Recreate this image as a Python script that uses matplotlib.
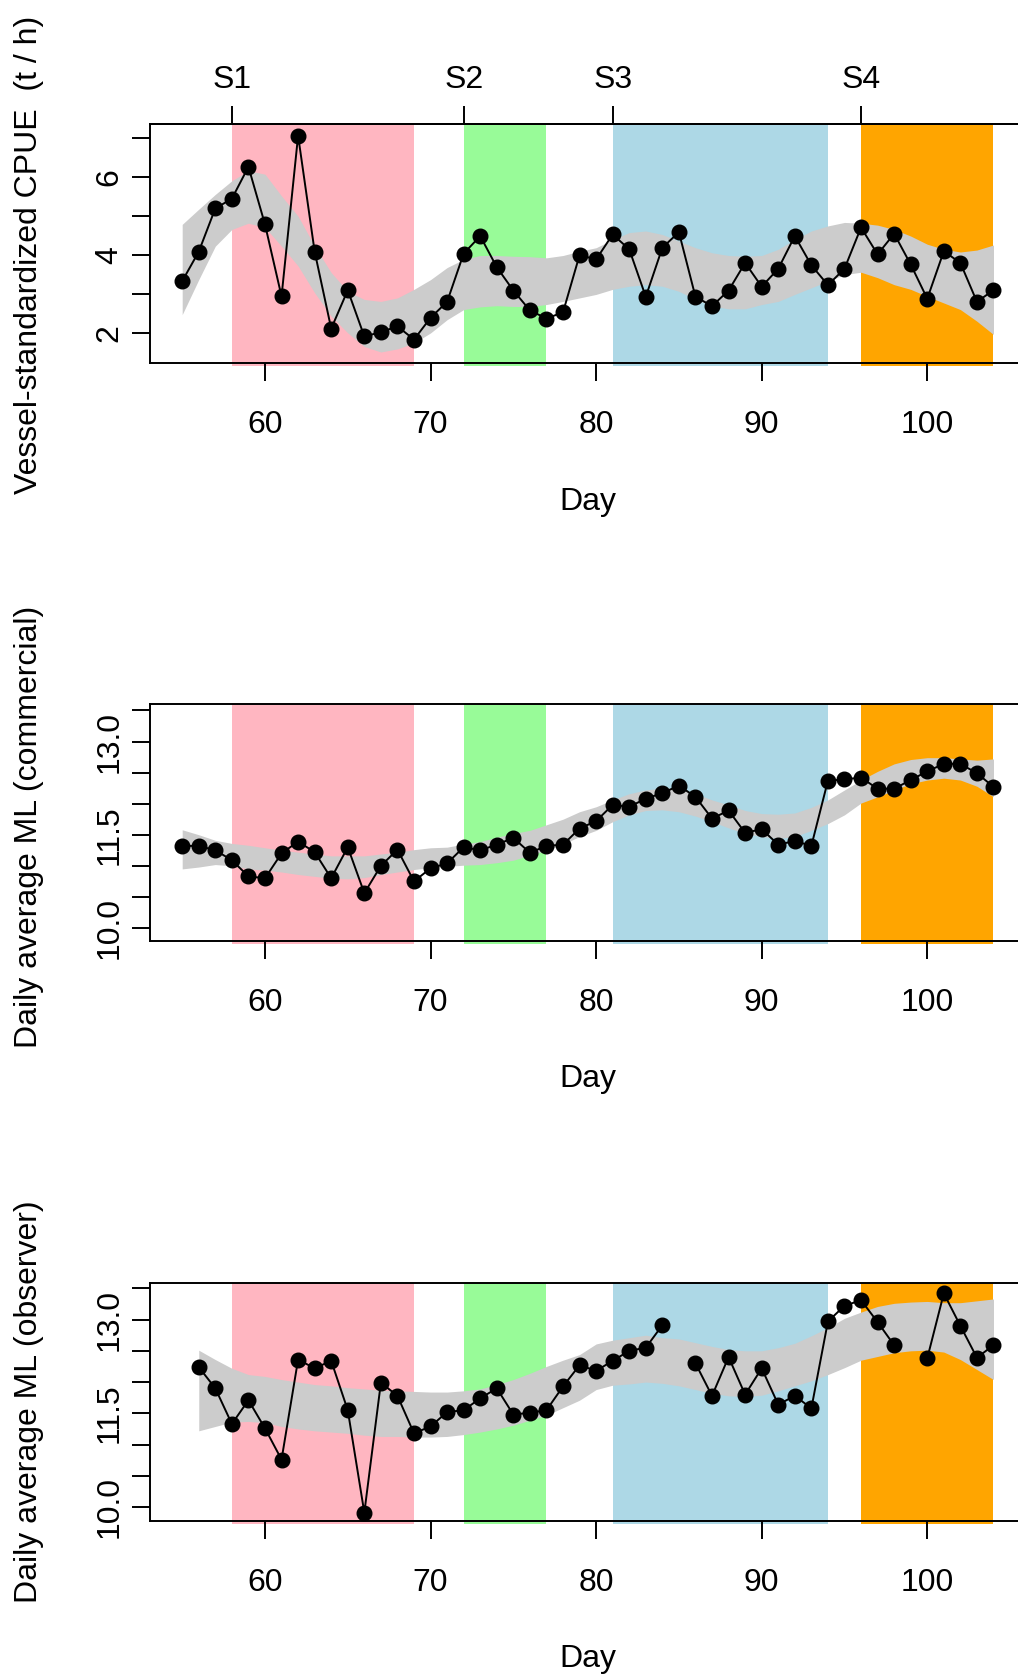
import matplotlib
matplotlib.use('Agg')
import matplotlib.pyplot as plt
import numpy as np

plt.rcParams['font.family'] = ['Liberation Sans', 'DejaVu Sans']

# days for commercial data (panels 1 and 2) and observer data (panel 3)
days = list(range(55, 105))
days_obs = list(range(56, 105))

# panel 1: vessel-standardized CPUE (t/h) with smoother band
cpue = [3.33, 4.09, 5.20, 5.45, 6.27, 4.79, 2.94, 7.07, 4.09, 2.11, 3.10, 1.91, 2.02,
        2.17, 1.83, 2.39, 2.80, 4.04, 4.49, 3.69, 3.09, 2.58, 2.37, 2.53, 4.00,
        3.89, 4.53, 4.15, 2.93, 4.19, 4.59, 2.93, 2.69, 3.09, 3.80, 3.19, 3.65, 4.49,
        3.74, 3.23, 3.65, 4.71, 4.02, 4.55, 3.76, 2.88, 4.10, 3.80, 2.80, 3.10]
cpue_hi = [4.79, 5.18, 5.56, 5.91, 6.17, 6.08, 5.52, 5.00, 4.23, 3.55, 3.07, 2.86, 2.81,
           2.90, 3.12, 3.37, 3.68, 3.89, 3.99, 3.99, 3.97, 3.96, 3.93, 3.99, 4.10,
           4.19, 4.40, 4.58, 4.62, 4.53, 4.36, 4.19, 4.06, 3.99, 3.97, 3.99, 4.15, 4.40,
           4.62, 4.75, 4.84, 4.82, 4.77, 4.66, 4.49, 4.28, 4.15, 4.08, 4.13, 4.26]
cpue_lo = [2.47, 3.37, 4.23, 4.66, 4.82, 4.71, 4.23, 3.72, 3.03, 2.43, 2.00, 1.65, 1.51,
           1.59, 1.74, 2.00, 2.34, 2.60, 2.67, 2.70, 2.68, 2.68, 2.73, 2.81, 2.90,
           2.99, 3.12, 3.20, 3.24, 3.20, 3.07, 2.86, 2.69, 2.62, 2.62, 2.73, 2.81, 2.99,
           3.16, 3.33, 3.50, 3.56, 3.42, 3.24, 3.12, 2.94, 2.77, 2.60, 2.30, 1.96]

# panel 2: daily average ML (commercial)
ml_com = [11.32, 11.32, 11.25, 11.09, 10.83, 10.80, 11.20, 11.39, 11.22, 10.80, 11.30,
          10.56, 11.00, 11.26, 10.75, 10.96, 11.04, 11.30, 11.25, 11.34, 11.45, 11.21,
          11.32, 11.34, 11.60,
          11.72, 11.98, 11.95, 12.08, 12.17, 12.29, 12.11, 11.76, 11.89, 11.53, 11.59,
          11.34, 11.40, 11.32, 12.37, 12.39, 12.42, 12.24, 12.24, 12.38, 12.52, 12.64,
          12.64, 12.49, 12.27]
ml_com_hi = [11.58, 11.50, 11.41, 11.36, 11.33, 11.29, 11.25, 11.22, 11.19, 11.16, 11.16,
             11.16, 11.19, 11.22, 11.26, 11.29, 11.30, 11.35, 11.39, 11.46, 11.52, 11.57,
             11.66, 11.75, 11.87,
             11.95, 12.06, 12.16, 12.22, 12.25, 12.25, 12.16, 12.06, 11.98, 11.89, 11.84,
             11.83, 11.85, 11.94, 12.06, 12.22, 12.38, 12.52, 12.64, 12.71, 12.74, 12.74,
             12.72, 12.70, 12.72]
ml_com_lo = [10.95, 10.98, 11.02, 11.00, 10.95, 10.93, 10.90, 10.86, 10.83, 10.80, 10.79,
             10.81, 10.86, 10.90, 10.94, 10.97, 10.99, 11.01, 11.02, 11.05, 11.09, 11.17,
             11.25, 11.35, 11.47,
             11.57, 11.71, 11.82, 11.89, 11.90, 11.87, 11.80, 11.71, 11.61, 11.52, 11.47,
             11.44, 11.47, 11.57, 11.68, 11.82, 12.01, 12.11, 12.22, 12.32, 12.38, 12.41,
             12.38, 12.28, 12.11]

# panel 3: daily average ML (observer), no data on days 85 and 99
ml_obs = [12.24, 11.90, 11.33, 11.71, 11.26, 10.76, 12.36, 12.22, 12.34, 11.55, 9.91,
          11.99, 11.78, 11.18, 11.29, 11.52, 11.55, 11.74, 11.90, 11.48, 11.51, 11.55,
          11.93, 12.27,
          12.18, 12.34, 12.50, 12.55, 12.91, np.nan, 12.30, 11.78, 12.40, 11.80, 12.22,
          11.64, 11.78, 11.58, 12.97, 13.22, 13.31, 12.96, 12.59, np.nan, 12.38, 13.42,
          12.90, 12.39, 12.59]
ml_obs_hi = [12.51, 12.36, 12.22, 12.12, 12.09, 12.04, 12.00, 11.96, 11.94, 11.91, 11.89,
             11.87, 11.86, 11.85, 11.84, 11.84, 11.86, 11.89, 11.96, 12.04, 12.14, 12.25,
             12.35, 12.44,
             12.61, 12.67, 12.71, 12.75, 12.71, 12.69, 12.63, 12.57, 12.52, 12.50, 12.50,
             12.55, 12.62, 12.74, 12.87, 13.02, 13.12, 13.21, 13.26, 13.28, 13.29, 13.27,
             13.27, 13.30, 13.33]
ml_obs_lo = [11.22, 11.29, 11.36, 11.37, 11.35, 11.29, 11.25, 11.22, 11.20, 11.18, 11.15,
             11.13, 11.13, 11.12, 11.12, 11.13, 11.16, 11.20, 11.25, 11.31, 11.39, 11.47,
             11.59, 11.71,
             11.88, 11.95, 11.97, 12.00, 11.98, 11.94, 11.88, 11.82, 11.78, 11.77, 11.79,
             11.86, 11.94, 12.02, 12.12, 12.23, 12.35, 12.41, 12.47, 12.50, 12.51, 12.48,
             12.36, 12.20, 12.04]

# survey periods
period_start = [58, 72, 81, 96]
period_end = [69, 77, 94, 104]
period_names = ['S1', 'S2', 'S3', 'S4']
period_colors = ['#FFB6C1', '#98FB98', '#ADD8E6', '#FFA500']

FS = 23
LW = 1.4

fig = plt.figure(figsize=(10.18, 16.77), dpi=100)


def panel(rect, x, y, xb, lo, hi, ylim, yticks, ylabels, ylab, ylab_y=0.5):
    ax = fig.add_axes(rect)
    for s, e, c in zip(period_start, period_end, period_colors):
        ax.axvspan(s, e, ymin=-0.013, ymax=1, color=c, lw=0, clip_on=False, zorder=0)
    ax.fill_between(xb, lo, hi, color='#CCCCCC', lw=0, zorder=1)
    ax.plot(x, y, color='black', lw=LW, marker='o', ms=10.5, zorder=3)
    ax.set_xlim(53.04, 105.96)
    ax.set_ylim(*ylim)
    ax.set_xticks([60, 70, 80, 90, 100])
    ax.set_yticks(yticks)
    ax.set_yticklabels(ylabels)
    for sp in ax.spines.values():
        sp.set_linewidth(LW)
    ax.tick_params(direction='out', length=13, width=LW, labelsize=FS, color='black')
    ax.tick_params(axis='x', pad=21)
    ax.tick_params(axis='y', pad=5, labelrotation=90)
    for lab in ax.get_yticklabels():
        lab.set_va('center')
    ax.set_xlabel('Day', fontsize=FS)
    ax.xaxis.set_label_coords(0.5, -0.52)
    ax.text(-0.1378, ylab_y, ylab, transform=ax.transAxes, rotation=90,
            ha='center', va='center', fontsize=FS)
    return ax


ax1 = panel([0.1471, 0.78384, 0.8607, 0.14222], days, cpue, days, cpue_lo, cpue_hi,
            (1.24, 7.37), [2, 3, 4, 5, 6, 7], ['2', '', '4', '', '6', ''],
            'Vessel-standardized CPUE  (t / h)', 0.45)
top = ax1.secondary_xaxis('top')
top.set_xticks(period_start)
top.set_xticklabels(period_names)
top.tick_params(direction='out', length=13, width=LW, labelsize=FS, pad=8)
top.spines['top'].set_linewidth(LW)

yt = [10.0, 10.5, 11.0, 11.5, 12.0, 12.5, 13.0, 13.5]
yl = ['10.0', '', '', '11.5', '', '', '13.0', '']
panel([0.1471, 0.43888, 0.8607, 0.14156], days, ml_com, days, ml_com_lo, ml_com_hi,
      (9.79, 13.61), yt, yl, 'Daily average ML (commercial)', 0.48)
panel([0.1471, 0.09332, 0.8607, 0.14162], days_obs, ml_obs, days_obs, ml_obs_lo, ml_obs_hi,
      (9.785, 13.585), yt, yl, 'Daily average ML (observer)', 0.5)

fig.savefig('out.png', dpi=100)
